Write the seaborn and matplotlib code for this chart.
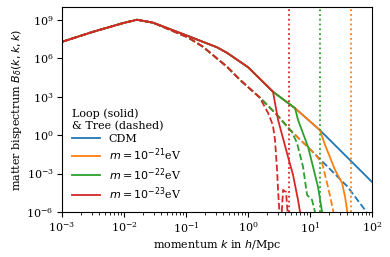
import numpy as np
import seaborn as sns
import matplotlib.pyplot as plt

plt.rcParams['font.family'] = ['DejaVu Serif']
plt.rcParams['font.size'] = 8

# values, as log10(k) and log10(B)
cdm_loop_logk = [-3.0, -2.5, -2.0, -1.79, -1.53, -0.935, -0.5, -0.339, 0.0, 0.403, 0.758, 1.161, 2.0]
cdm_loop_logb = [7.28, 8.06, 8.76, 9.0, 8.77, 7.67, 6.85, 6.42, 5.3, 3.38, 2.1, 0.38, -3.66]

cdm_tree_logk = [-3.0, -2.5, -2.0, -1.79, -1.53, -0.968, -0.726, -0.339, -0.129, 0.194, 0.468, 0.677,
                 0.968, 1.29, 1.6, 1.887, 1.95]
cdm_tree_logb = [7.28, 8.06, 8.76, 9.0, 8.77, 7.62, 6.89, 5.33, 4.31, 2.91, 1.58, 0.41,
                 -0.95, -2.5, -4.0, -5.84, -6.3]

m21_loop_logk = [1.242, 1.403, 1.516, 1.565, 1.597, 1.61]
m21_loop_logb = [-0.77, -2.72, -3.73, -4.83, -5.84, -6.5]
m21_tree_logk = [1.194, 1.29, 1.371, 1.39]
m21_tree_logb = [-2.17, -4.05, -5.84, -6.5]

m22_loop_logk = [0.806, 0.968, 1.129, 1.194, 1.2]
m22_loop_logb = [1.19, -0.92, -4.05, -6.0, -6.5]
m22_tree_logk = [0.79, 0.887, 0.952, 1.032, 1.08, 1.09]
m22_tree_logb = [-0.61, -2.48, -4.67, -5.06, -6.0, -6.5]

m23_loop_logk = [0.484, 0.645, 0.726, 0.806, 0.839, 0.85]
m23_loop_logb = [1.19, -1.7, -3.11, -5.06, -6.0, -6.5]
m23_tree_logk = [0.226, 0.323, 0.387, 0.403, 0.435, 0.468, 0.484, 0.525, 0.565, 0.613, 0.66]
m23_tree_logb = [2.59, 1.73, 0.95, 0.7, -0.375, -2.72, -4.28, -7.5, -4.28, -4.44, -7.5]

# Jeans scales
k_jeans = [46.0, 14.5, 4.6]

labels = ['CDM', r'$m=10^{-21}$eV', r'$m=10^{-22}$eV', r'$m=10^{-23}$eV']
colors = sns.color_palette('tab10')[:4]


def branch(logk, logb, start_logk, trunk_k, trunk_b):
    # shared part of the CDM curve up to where a model branches off
    kk = [k for k in trunk_k if k < start_logk]
    bb = [b for k, b in zip(trunk_k, trunk_b) if k < start_logk]
    kk.append(start_logk)
    bb.append(np.interp(start_logk, trunk_k, trunk_b))
    return 10 ** np.array(kk + logk), 10 ** np.array(bb + logb)


curves = [
    (10 ** np.array(cdm_loop_logk), 10 ** np.array(cdm_loop_logb),
     10 ** np.array(cdm_tree_logk), 10 ** np.array(cdm_tree_logb)),
    branch(m21_loop_logk, m21_loop_logb, 1.161, cdm_loop_logk, cdm_loop_logb)
    + branch(m21_tree_logk, m21_tree_logb, 1.08, cdm_tree_logk, cdm_tree_logb),
    branch(m22_loop_logk, m22_loop_logb, 0.758, cdm_loop_logk, cdm_loop_logb)
    + branch(m22_tree_logk, m22_tree_logb, 0.7, cdm_tree_logk, cdm_tree_logb),
    branch(m23_loop_logk, m23_loop_logb, 0.403, cdm_loop_logk, cdm_loop_logb)
    + branch(m23_tree_logk, m23_tree_logb, 0.194, cdm_tree_logk, cdm_tree_logb),
]

fig = plt.figure(figsize=(3.9, 2.57), dpi=100)
ax = fig.add_axes([0.159, 0.175, 0.795, 0.798])

for (kl, bl, kt, bt), c, lab in zip(curves, colors, labels):
    sns.lineplot(x=kl, y=bl, ax=ax, color=c, lw=1.3, label=lab, sort=False)
    sns.lineplot(x=kt, y=bt, ax=ax, color=c, lw=1.3, linestyle='--', sort=False)

for kj, c in zip(k_jeans, [colors[1], colors[2], colors[3]]):
    ax.axvline(kj, color=c, ls=':', lw=1.3)

ax.set_xscale('log')
ax.set_yscale('log')
ax.set_xlim(1e-3, 1e2)
ax.set_ylim(1e-6, 1e10)
ax.set_yticks([1e-6, 1e-3, 1e0, 1e3, 1e6, 1e9])
ax.tick_params(pad=2.5)
ax.set_xlabel(r'momentum $k$ in $h$/Mpc', labelpad=2)
ax.set_ylabel(r'matter bispectrum $B_\delta(k,k,k)$', labelpad=2)
ax.legend(title='Loop (solid)\n& Tree (dashed)', frameon=False, loc='lower left',
          alignment='left', title_fontsize=8, handlelength=2.5, labelspacing=0.25)

fig.savefig('out.png', dpi=100)
